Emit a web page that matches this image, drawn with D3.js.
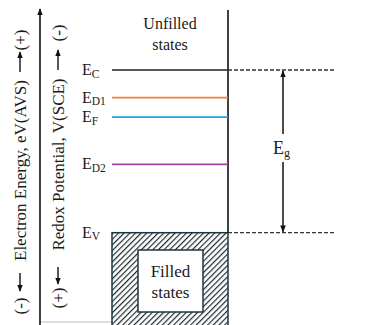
<!DOCTYPE html>
<html>
<head>
<meta charset="utf-8">
<script src="https://cdn.jsdelivr.net/npm/d3@7"></script>
<style>
  body { margin: 0; background: #fff; }
</style>
</head>
<body>
<svg id="chart" width="388" height="325"></svg>
<script>
// energy levels (relative units, Ev = 0, Ec = 1)
const levelNames = ["C", "D1", "F", "D2", "V"];
const levelValues = [1.0, 0.83, 0.71, 0.42, 0.0];
const lineLevels = ["D1", "F", "D2"];
const axisLabels = ["Electron Energy, eV(AVS)", "Redox Potential, V(SCE)"];
const axisEnds = [["(-)", "(+)"], ["(+)", "(-)"]];

const svg = d3.select("#chart")
  .style("font-family", '"Liberation Serif", "Times New Roman", serif');
const W = 388, H = 325;
const ink = "#1a1a1a";

const y = d3.scaleLinear().domain([0, 1]).range([232.7, 70]);
const color = d3.scaleOrdinal()
  .domain(["C", "D1", "F", "D2", "V"])
  .range(["#222", "#ED7D31", "#1BA5E8", "#A53FA8", "#222"]);

const lv = {};
levelNames.forEach((n, i) => lv[n] = levelValues[i]);

const xL = 112, xR = 228, xDash = 336, xEg = 283;

// markers
const defs = svg.append("defs");
defs.append("marker")
  .attr("id", "arr")
  .attr("viewBox", "0 0 10 10")
  .attr("refX", 9).attr("refY", 5)
  .attr("markerWidth", 7).attr("markerHeight", 7)
  .attr("markerUnits", "userSpaceOnUse")
  .attr("orient", "auto")
  .append("path").attr("d", "M0,1 L10,5 L0,9 Z").attr("fill", "#111");

const pat = defs.append("pattern")
  .attr("id", "hatch")
  .attr("patternUnits", "userSpaceOnUse")
  .attr("width", 4).attr("height", 4)
  .attr("patternTransform", "rotate(45)");
pat.append("rect").attr("width", 4).attr("height", 4).attr("fill", "#fff");
pat.append("line")
  .attr("x1", 0).attr("y1", 0).attr("x2", 0).attr("y2", 4)
  .attr("stroke", "#1e2a30").attr("stroke-width", 2.4);

// bottom gray line
svg.append("line")
  .attr("x1", 40).attr("x2", xL).attr("y1", 322).attr("y2", 322)
  .attr("stroke", "#bbb").attr("stroke-width", 1);

// main vertical axis with arrow
svg.append("line")
  .attr("x1", 40).attr("x2", 40).attr("y1", 325).attr("y2", 9)
  .attr("stroke", "#111").attr("stroke-width", 1.6)
  .attr("marker-end", "url(#arr)");

// filled states (hatched box)
svg.append("rect")
  .attr("x", xL).attr("y", y(lv.V))
  .attr("width", xR - xL).attr("height", H - y(lv.V) + 5)
  .attr("fill", "url(#hatch)")
  .attr("stroke", "#1c3440").attr("stroke-width", 1.5);

svg.append("rect")
  .attr("x", 138).attr("y", 250).attr("width", 65).attr("height", 62)
  .attr("fill", "#fff").attr("stroke", "#1c3440").attr("stroke-width", 1.5);

svg.append("text").attr("x", 170.5).attr("y", 277).attr("fill", ink)
  .attr("text-anchor", "middle").style("font-size", "17px").text("Filled");
svg.append("text").attr("x", 170.5).attr("y", 298).attr("fill", ink)
  .attr("text-anchor", "middle").style("font-size", "17px").text("states");

// unfilled states
svg.append("text").attr("x", 170).attr("y", 29).attr("fill", ink)
  .attr("text-anchor", "middle").style("font-size", "16px").text("Unfilled");
svg.append("text").attr("x", 170).attr("y", 50).attr("fill", ink)
  .attr("text-anchor", "middle").style("font-size", "16px").text("states");

// right vertical line
svg.append("line")
  .attr("x1", xR).attr("x2", xR).attr("y1", 10).attr("y2", y(lv.V))
  .attr("stroke", "#111").attr("stroke-width", 1.6);

// Ec line
svg.append("line")
  .attr("x1", xL).attr("x2", xR).attr("y1", y(lv.C)).attr("y2", y(lv.C))
  .attr("stroke", color("C")).attr("stroke-width", 1.5);

// level lines
svg.selectAll(".lvl")
  .data(lineLevels)
  .enter().append("line")
  .attr("class", "lvl")
  .attr("x1", xL).attr("x2", xR)
  .attr("y1", d => y(lv[d])).attr("y2", d => y(lv[d]))
  .attr("stroke", d => color(d)).attr("stroke-width", 1.8);

// dashed extensions
svg.selectAll(".dash")
  .data(["C", "V"])
  .enter().append("line")
  .attr("class", "dash")
  .attr("x1", xR).attr("x2", xDash)
  .attr("y1", d => y(lv[d])).attr("y2", d => y(lv[d]))
  .attr("stroke", "#333").attr("stroke-width", 1.3)
  .attr("stroke-dasharray", "4,2");

// level labels
const lbl = svg.selectAll(".lbl")
  .data(levelNames)
  .enter().append("text")
  .attr("class", "lbl")
  .attr("x", 82)
  .attr("y", d => y(lv[d]) + 5)
  .attr("fill", ink)
  .style("font-size", "16px");
lbl.append("tspan").text("E");
lbl.append("tspan").attr("dy", 2.5).style("font-size", "11.5px").text(d => d);

// Eg arrow
const gapTop = 134, gapBot = 162;
svg.append("line")
  .attr("x1", xEg).attr("x2", xEg).attr("y1", gapTop).attr("y2", y(lv.C) + 1)
  .attr("stroke", "#111").attr("stroke-width", 1.5).attr("marker-end", "url(#arr)");
svg.append("line")
  .attr("x1", xEg).attr("x2", xEg).attr("y1", gapBot).attr("y2", y(lv.V) - 1)
  .attr("stroke", "#111").attr("stroke-width", 1.5).attr("marker-end", "url(#arr)");
const eg = svg.append("text").attr("x", 273).attr("y", 154).attr("fill", ink)
  .style("font-size", "18px");
eg.append("tspan").text("E");
eg.append("tspan").attr("dy", 3).style("font-size", "12px").text("g");

// rotated axis titles
const cols = [
  { x: 20, lo: 306, hi: 40, aLo: [273, 291], aHi: [72, 52], tLo: 263, tHi: 78 },
  { x: 58, lo: 298, hi: 33, aLo: [267, 284], aHi: [70, 50], tLo: 257, tHi: 72 }
];
cols.forEach((c, i) => {
  const g = svg.append("g").attr("fill", ink);
  const rot = yy => `translate(${c.x},${yy}) rotate(-90)`;
  g.append("text").attr("transform", rot(c.lo)).attr("dy", "0.35em")
    .attr("text-anchor", "middle").style("font-size", "17px").text(axisEnds[i][0]);
  g.append("text").attr("transform", rot(c.hi)).attr("dy", "0.35em")
    .attr("text-anchor", "middle").style("font-size", "17px").text(axisEnds[i][1]);
  g.append("text").attr("transform", rot((c.tLo + c.tHi) / 2)).attr("dy", "0.35em")
    .attr("text-anchor", "middle")
    .style("font-size", "17px").text(axisLabels[i]);
  g.append("line").attr("x1", c.x).attr("x2", c.x)
    .attr("y1", c.aLo[0]).attr("y2", c.aLo[1])
    .attr("stroke", "#111").attr("stroke-width", 1.4).attr("marker-end", "url(#arr)");
  g.append("line").attr("x1", c.x).attr("x2", c.x)
    .attr("y1", c.aHi[0]).attr("y2", c.aHi[1])
    .attr("stroke", "#111").attr("stroke-width", 1.4).attr("marker-end", "url(#arr)");
});
</script>
</body>
</html>
